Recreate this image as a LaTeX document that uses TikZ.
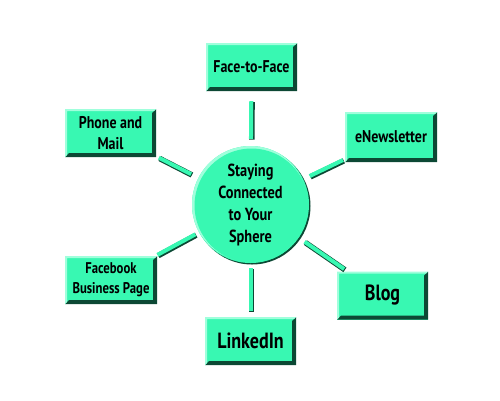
\documentclass[tikz,border=0pt]{standalone}
\usepackage{fontspec}
\setmainfont{PT Sans}[FakeStretch=0.82]
\definecolor{aqua}{RGB}{56,248,178}
\definecolor{darkaqua}{RGB}{12,72,52}
\definecolor{lightaqua}{RGB}{160,255,220}
\tikzset{
  bevelbox/.style={fill=aqua, minimum width=91pt, minimum height=48pt, inner sep=0pt, align=center,
    text=black, font=\bfseries\fontsize{17}{21}\selectfont,
    path picture={
      \fill[darkaqua] (path picture bounding box.north east) -- (path picture bounding box.south east)
        -- (path picture bounding box.south west) -- ([shift={(4pt,4pt)}]path picture bounding box.south west)
        -- ([shift={(-4pt,4pt)}]path picture bounding box.south east) -- ([shift={(-4pt,-4pt)}]path picture bounding box.north east) -- cycle;
      \fill[lightaqua] (path picture bounding box.north west) -- (path picture bounding box.north east)
        -- ([shift={(-2pt,-2pt)}]path picture bounding box.north east) -- ([shift={(2pt,-2pt)}]path picture bounding box.north west)
        -- ([shift={(2pt,2pt)}]path picture bounding box.south west) -- (path picture bounding box.south west) -- cycle;
    }},
  bigtext/.style={font=\bfseries\fontsize{22}{26}\selectfont},
  hub/.style={circle, fill=aqua, minimum size=117pt, inner sep=0pt, align=center,
    text=black, font=\bfseries\fontsize{17.5}{22}\selectfont,
    preaction={fill=darkaqua, transform canvas={shift={(1.5pt,-1.5pt)}}},
    path picture={
      \fill[lightaqua] (path picture bounding box.center) ++(-1pt,1pt) circle (58pt);
      \fill[aqua] (path picture bounding box.center) ++(1pt,-1pt) circle (57pt);
    }},
  conn/.style={line width=4pt, draw=aqua,
    preaction={draw=darkaqua, line width=5.5pt, transform canvas={shift={(0.8pt,-0.8pt)}}}}
}
\begin{document}
\begin{tikzpicture}[x=1pt,y=-1pt]
\useasboundingbox (0,0) rectangle (500,400);
\node[hub] (c) at (250.5,204.5) {Staying\\Connected\\to Your\\Sphere};
\node[bevelbox] (ftf) at (251.5,67) {Face-to-Face};
\node[bevelbox] (phone) at (110.5,133) {Phone and\\Mail};
\node[bevelbox, minimum height=50pt, minimum width=92pt] (enews) at (391,137) {eNewsletter};
\node[bevelbox, minimum width=92pt, font=\bfseries\fontsize{15.5}{20}\selectfont] (fb) at (111,280) {Facebook\\Business Page};
\node[bevelbox, bigtext] (blog) at (382.5,295.5) {Blog};
\node[bevelbox, bigtext] (linked) at (250.5,341) {LinkedIn};
\draw[conn, shorten <=7pt, shorten >=10pt] (c) -- (ftf);
\draw[conn, shorten <=8pt, shorten >=3pt] (c) -- (phone);
\draw[conn, shorten <=7pt, shorten >=2pt] (c) -- (enews);
\draw[conn, shorten <=4pt, shorten >=2pt] (c) -- (fb);
\draw[conn, shorten <=7pt, shorten >=4pt] (c) -- (blog);
\draw[conn, shorten <=5pt, shorten >=6pt] (c) -- (linked);
\end{tikzpicture}
\end{document}
